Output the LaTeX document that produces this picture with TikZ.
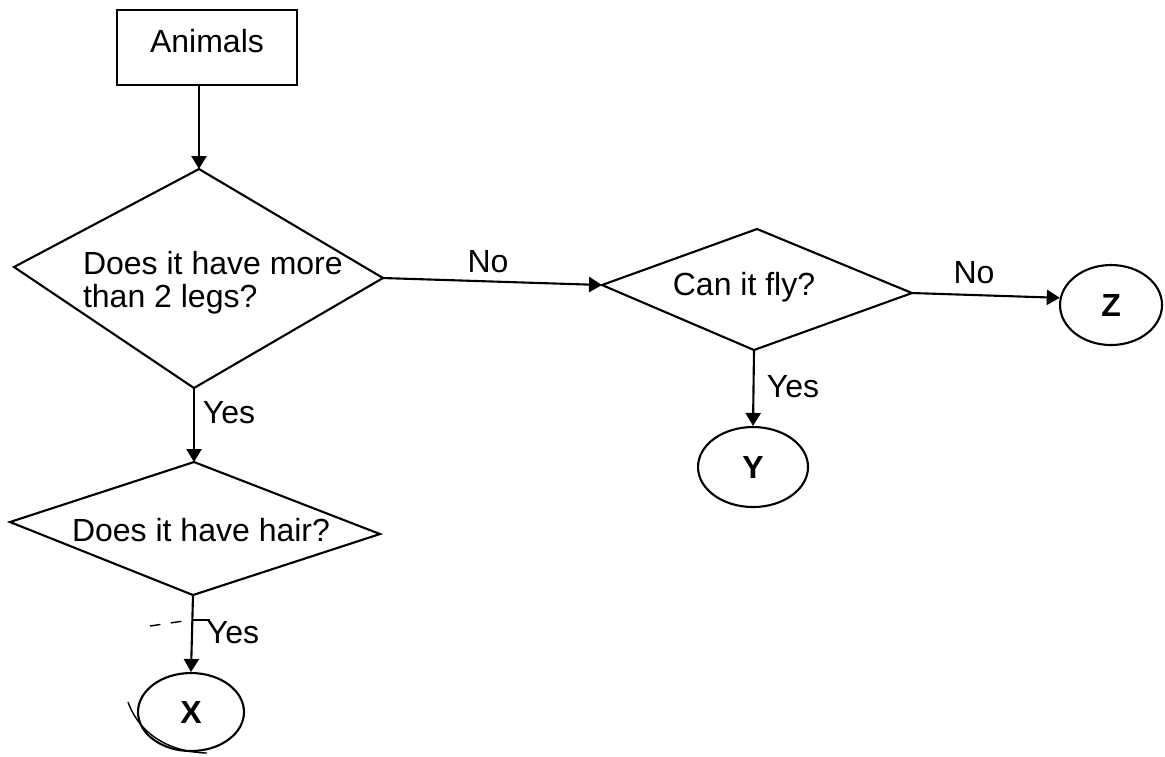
\documentclass[tikz,border=0pt]{standalone}
\usepackage{fontspec}
\setmainfont{Liberation Sans}
\usetikzlibrary{arrows.meta,shapes.geometric}
\begin{document}
\begin{tikzpicture}[x=0.01cm,y=-0.01cm,line width=0.6pt,
  flow/.style={-{Triangle[length=3.7pt,width=4.3pt]}},
  txt/.style={inner sep=0pt,anchor=base,font=\fontsize{9.1}{9.4}\selectfont},
  term/.style={draw,ellipse,inner sep=0pt,font=\fontsize{9.1}{9.4}\selectfont\bfseries},
  startbox/.style={draw,rectangle,inner sep=0pt,font=\fontsize{9.1}{9.4}\selectfont,
    text height=6.6pt,text depth=3.5pt}]
\useasboundingbox (0,0) rectangle (1165,756);

% start box
\node[startbox,minimum width=180*0.01cm,minimum height=75*0.01cm] (animals) at (207,47.5) {Animals};

% diamond 1
\coordinate (d1n) at (199,169);
\coordinate (d1e) at (383,278);
\coordinate (d1s) at (194,388);
\coordinate (d1w) at (14,267);
\draw (d1n) -- (d1e) -- (d1s) -- (d1w) -- cycle;
\node[txt,anchor=west,align=left] (q1) at (82,283) {Does it have more\\than 2 legs?};

% diamond 2
\coordinate (d2n) at (757,229);
\coordinate (d2e) at (912,293);
\coordinate (d2s) at (754,350);
\coordinate (d2w) at (602,285);
\draw (d2n) -- (d2e) -- (d2s) -- (d2w) -- cycle;
\node[txt] (q2) at (744,295) {Can it fly?};

% diamond 3
\coordinate (d3n) at (194,462);
\coordinate (d3e) at (380,534);
\coordinate (d3s) at (193,595);
\coordinate (d3w) at (10,522);
\draw (d3n) -- (d3e) -- (d3s) -- (d3w) -- cycle;
\node[txt] (q3) at (201,541) {Does it have hair?};

% terminals
\node[term,minimum width=102*0.01cm,minimum height=80*0.01cm] (z) at (1111,305) {Z};
\node[term,minimum width=110*0.01cm,minimum height=80*0.01cm] (y) at (753,467) {Y};
\node[term,minimum width=106*0.01cm,minimum height=78*0.01cm] (x) at (191,712) {X};

% connectors
\draw[flow] (d1n |- animals.south) -- (d1n);
\draw[flow] (d1e) -- (d2w);
\draw[flow] (d2e) -- (z.172);
\draw[flow] (d2s) -- (y.north);
\draw[flow] (d1s) -- (d3n);
\draw[flow] (d3s) -- (x.north);

% labels
\node[txt] (no1) at (488,272) {No};
\node[txt] (no2) at (974,283) {No};
\node[txt] (yes1) at (793,397) {Yes};
\node[txt] (yes2) at (229,423) {Yes};
\node[txt] (yes3) at (233,643) {Yes};

% pen marks of the scan
\draw[line width=0.4pt] (128,702) .. controls (140,735) and (170,752) .. (207,753);
\draw[line width=0.4pt,dash pattern=on 3pt off 3pt] (150,626) -- (190,620);
\draw[line width=0.4pt] (193,620) -- (210,620);
\end{tikzpicture}
\end{document}
